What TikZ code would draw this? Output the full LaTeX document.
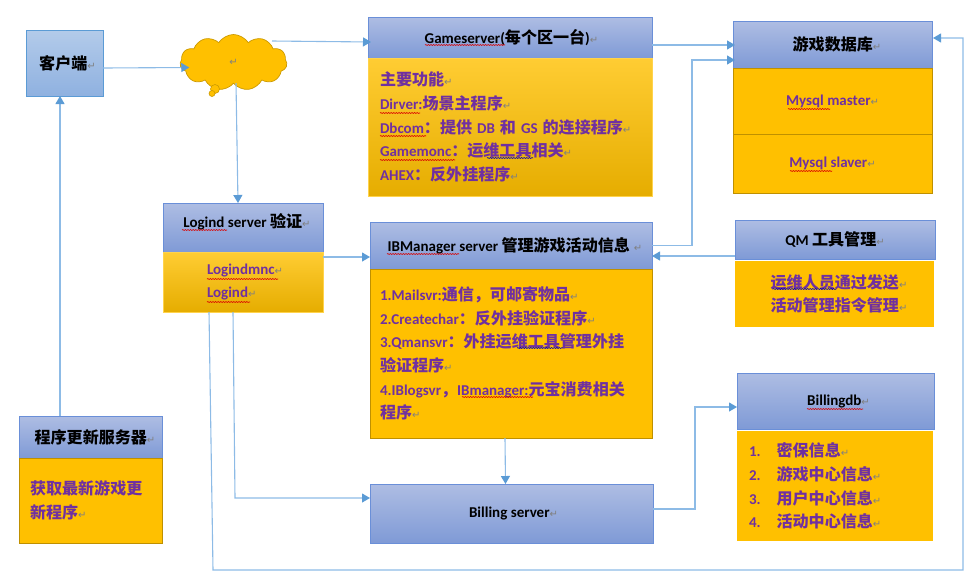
\documentclass[tikz,border=0pt]{standalone}
\usepackage{fontspec}
\setmainfont{Carlito}
\newfontfamily\cjkfam[Scale=1.07]{Noto Sans CJK SC}
\newfontfamily\symfam{DejaVu Sans}
\usetikzlibrary{arrows.meta,shapes.symbols,decorations.pathmorphing}
\definecolor{gold}{HTML}{FFC000}
\definecolor{goldedge}{HTML}{BF9000}
\definecolor{purp}{HTML}{7030A0}
\definecolor{lnk}{HTML}{8DBBE6}
\definecolor{tip}{HTML}{5B9BD5}
\definecolor{hdtop}{HTML}{AEBDE3}
\definecolor{hdbot}{HTML}{7F9AD6}
\definecolor{hdedge}{HTML}{6A8FD8}
\definecolor{cltop}{HTML}{B3CBEA}
\definecolor{clbot}{HTML}{8FB1E0}
\newcommand\zh[1]{{\cjkfam #1}}
\newcommand\retm{{\symfam\mdseries\fontsize{10}{10}\selectfont\color{gray}↵}}
\newcommand\squigr[3]{\draw[squigred] (#1,#3) -- (#2,#3);}
\newcommand\squigb[3]{\draw[squigblue] (#1,#3) -- (#2,#3);}
\tikzset{
  x=1pt,y=-1pt,
  basebox/.style={rectangle,anchor=north west,inner sep=0pt,outer sep=0pt,font=\fontsize{15}{23.6}\selectfont\bfseries},
  hdr/.style={basebox,draw=hdedge,line width=1pt,top color=hdtop,bottom color=hdbot,text=black,align=center},
  clientbox/.style={basebox,draw=tip,line width=1pt,top color=cltop,bottom color=clbot,text=black},
  flat/.style={basebox,draw=goldedge,line width=.8pt,fill=gold,text=purp,align=left},
  flatplain/.style={basebox,fill=gold,text=purp,align=left},
  grad/.style={basebox,draw=gold!70!white,line width=.6pt,top color=gold!80!white,middle color=gold,bottom color=gold!90!black,text=purp,align=left},
  caption/.style={inner sep=0pt,outer sep=0pt,font=\fontsize{15}{18}\selectfont\bfseries},
  link/.style={draw=lnk,line width=1.1pt,-{Triangle[length=8pt,width=9pt,color=tip]}},
  squigred/.style={draw=red!85!black,line width=.6pt,decorate,decoration={snake,amplitude=.5pt,segment length=2.6pt}},
  squigblue/.style={draw=blue!70!black,line width=.6pt,decorate,decoration={snake,amplitude=.5pt,segment length=2.6pt}},
}
\begin{document}
\begin{tikzpicture}
\useasboundingbox (0,0) rectangle (973,582);

% client and cloud
\node[clientbox,minimum width=77,minimum height=66] (client) at (26,30) {\hspace*{6pt}\zh{客户端}\retm};
\node[cloud,cloud puffs=11,cloud puff arc=115,aspect=2,draw=goldedge!80!gold,line width=.7pt,fill=gold,minimum width=107,minimum height=56,inner sep=0pt,outer sep=0pt] (cloud) at (233.5,62.5) {\retm};
\node[circle,draw=goldedge!80!gold,line width=.6pt,fill=gold,minimum size=9,inner sep=0pt] (tailA) at (215,89) {};
\node[circle,draw=goldedge!80!gold,line width=.6pt,fill=gold,minimum size=6,inner sep=0pt] (tailB) at (212,93.5) {};

% gameserver
\node[hdr,minimum width=284,minimum height=41] (game) at (368,17) {\hspace*{3pt}Gameserver(\zh{每个区一台})\retm};
\node[grad,minimum width=284,minimum height=138,text width=272,inner xsep=6pt] (gamebody) at (368,58) {%
 \hspace*{6pt}\zh{主要功能}\retm\\
 \hspace*{6pt}Dirver:\zh{场景主程序}\retm\\
 \hspace*{6pt}Dbcom\zh{：提供} DB \zh{和} GS \zh{的连接程序}\retm\\
 \hspace*{6pt}Gamemonc\zh{：运维工具相关}\retm\\
 \hspace*{6pt}AHEX\zh{：反外挂程序}\retm};

% database
\node[hdr,minimum width=199,minimum height=47] (db) at (733,21) {\hspace*{9pt}\zh{游戏数据库}\retm};
\node[flat,minimum width=199,minimum height=66,align=center] (master) at (733,68) {Mysql master\retm};
\node[flat,minimum width=199,minimum height=59,align=center] (slaver) at (733,134) {Mysql slaver\retm};

% QM
\node[hdr,minimum width=200,minimum height=39] (qm) at (735,220) {QM \zh{工具管理}\retm};
\node[flatplain,minimum width=199,minimum height=66,align=center] (qmbody) at (735,261) {\hspace*{9pt}\zh{运维人员通过发送}\retm\\\hspace*{9pt}\zh{活动管理指令管理}\retm};

% logind
\node[hdr,minimum width=160,minimum height=49] (logind) at (163,203) {};
\node[caption] (logtxt) at (247,222) {Logind server \zh{验证}\retm};
\node[grad,minimum width=160,minimum height=60,text width=160] (logbody) at (163,252) {%
 \hspace*{44pt}Logindmnc\retm\\
 \hspace*{44pt}Logind\retm};

% IBManager
\node[hdr,minimum width=282,minimum height=47] (ib) at (370,222) {\hspace*{8pt}IBManager server \zh{管理游戏活动信息}\hspace{4pt}\retm};
\node[flat,minimum width=282,minimum height=169,text width=262,inner xsep=10pt] (ibbody) at (370,269) {%
 1.Mailsvr:\zh{通信，可邮寄物品}\retm\\
 2.Createchar\zh{：反外挂验证程序}\retm\\
 3.Qmansvr\zh{：外挂运维工具管理外挂}\\
 \zh{验证程序}\retm\\
 4.IBlogsvr\zh{，}IBmanager:\zh{元宝消费相关}\\
 \zh{程序}\retm};

% updater
\node[hdr,minimum width=143,minimum height=42] (upd) at (19,416) {\hspace*{9pt}\zh{程序更新服务器}\retm};
\node[flat,minimum width=143,minimum height=85,text width=131,inner xsep=6pt] (updbody) at (19,458) {%
 \hspace*{5pt}\zh{获取最新游戏更}\\
 \hspace*{5pt}\zh{新程序}\retm};

% billing
\node[hdr,minimum width=283,minimum height=59] (bill) at (370,484) {\hspace*{4pt}Billing server\retm};
\node[hdr,minimum width=197,minimum height=56] (billdb) at (737,373) {\hspace*{6pt}Billingdb\retm};
\node[flatplain,minimum width=196,minimum height=110,text width=196] (billbody) at (737,431) {%
 \hspace*{12pt}1.\hspace*{16pt}\zh{密保信息}\retm\\
 \hspace*{12pt}2.\hspace*{16pt}\zh{游戏中心信息}\retm\\
 \hspace*{12pt}3.\hspace*{16pt}\zh{用户中心信息}\retm\\
 \hspace*{12pt}4.\hspace*{16pt}\zh{活动中心信息}\retm};

% waypoints
\coordinate (wpA) at (692,245.5);
\coordinate (wpB) at (692,60);
\coordinate (wpC) at (235,498);
\coordinate (wpD) at (213,570);
\coordinate (wpE) at (963,570);
\coordinate (wpF) at (963,38);
\coordinate (wpG) at (695,509);
\coordinate (wpH) at (695,407);

% connectors
\draw[link] ([yshift=-5pt]client.east) -- ([xshift=9pt,yshift=-5pt]cloud.west);
\draw[link] ([xshift=38.5pt,yshift=21.5pt]cloud.center) -- ([xshift=3pt,yshift=-4.5pt]game.west);
\draw[link] (cloud.south) ++(2.5pt,0pt) -- ([xshift=-5pt]logind.north);
\draw[link] (upd.north -| client.south) ++(-4.5pt,0pt) -- ([xshift=-4.5pt]client.south);
\draw[link] ([yshift=-7.5pt]game.east) -- ([xshift=2pt,yshift=-0.5pt]db.west);
\draw[link] (ib.east) -- (wpA) -- (wpB) -- ([xshift=2pt]wpB -| db.west);
\draw[link] ([yshift=-16.5pt]qm.west) -- ([yshift=-10.5pt]ib.east);
\draw[link] ([yshift=25pt]logbody.east) -- ([yshift=-11.5pt]ib.west);
\draw[link] (ibbody.south) ++(-6pt,0pt) -- ([xshift=-6pt]bill.north);
\draw[link] ([xshift=-10pt]logbody.south) -- (wpC) -- ([yshift=15.5pt]bill.west);
\draw[link] ([xshift=-34pt]logbody.south) -- (wpD) -- (wpE) -- (wpF) -- ([xshift=1pt]wpF -| db.east);
\draw[link] ([yshift=4.5pt]bill.east) -- (wpG) -- (wpH) -- (wpH -| billdb.west);

% spelling marks
\squigr{425}{505}{45}
\squigr{380}{420}{113}
\squigr{380}{426}{136}
\squigr{380}{455}{160}
\squigb{487}{533}{158}
\squigr{788}{830}{109}
\squigr{790}{832}{171}
\squigb{773}{836}{289}
\squigr{182}{227}{230}
\squigr{207}{278}{279}
\squigr{207}{250}{302}
\squigr{387}{459}{254}
\squigb{517}{563}{348}
\squigr{462}{533}{397}
\squigr{807}{863}{409}
\end{tikzpicture}
\end{document}
